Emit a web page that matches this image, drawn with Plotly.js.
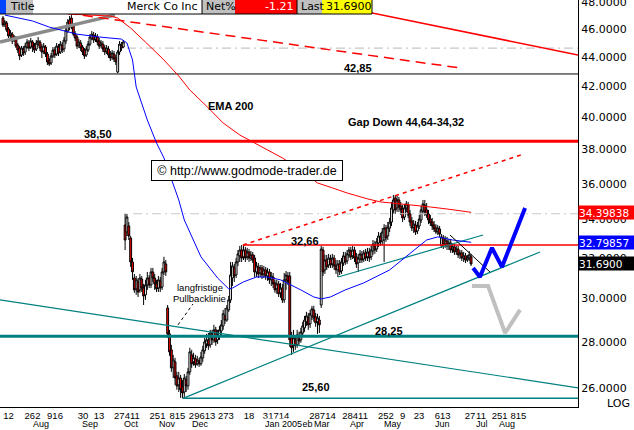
<!DOCTYPE html>
<html>
<head>
<meta charset="utf-8">
<script src="https://cdn.plot.ly/plotly-3.0.1.min.js"></script>
<style>html,body{margin:0;padding:0;background:#fff;}#chart{width:634px;height:430px;}</style>
</head>
<body>
<div id="chart"></div>
<script>
// ---- Daily OHLC (Merck Co Inc), one value per trading bar ----
const open = [
46.83,46.38,46.46,46.02,45.58,45.65,45.22,45.37,44.86,44.65,
44.16,44.58,44.37,44.72,45.01,44.72,45.08,44.79,44.58,44.93,
45.08,44.72,44.44,44.72,44.23,43.81,43.60,44.09,44.51,44.23,
44.72,44.37,44.86,44.58,45.15,45.87,46.68,46.83,46.24,45.65,
45.44,44.86,45.01,44.72,44.51,44.16,44.51,44.93,45.37,45.58,
45.29,45.44,45.15,44.86,44.93,44.65,44.44,44.58,44.23,44.02,
44.23,43.95,42.98,44.37,44.86,44.72,
33.71,33.34,33.66,33.02,31.79,30.99,30.46,30.80,30.41,30.94,
30.50,30.17,30.65,30.99,30.65,31.29,30.99,30.70,30.50,30.85,
30.55,31.29,31.69,29.55,28.36,27.65,26.87,27.13,26.53,26.15,
26.44,26.07,25.86,26.36,26.11,26.70,27.43,27.13,27.26,27.04,
27.17,27.04,27.30,27.61,27.91,28.09,27.87,28.36,28.09,28.54,
28.09,28.27,28.49,28.72,29.18,28.99,29.46,29.93,30.99,31.49,
31.14,31.79,32.10,32.40,32.05,32.40,32.05,32.30,31.99,32.15,
31.99,31.29,31.54,31.24,31.49,31.19,31.39,31.09,31.29,30.90,
31.04,30.75,30.46,30.70,30.27,30.50,29.93,30.90,31.09,31.09,
28.18,27.83,28.09,27.87,28.27,28.09,28.40,28.63,28.91,29.09,
28.81,29.18,29.46,29.14,28.91,28.99,29.69,32.40,31.39,31.89,
31.64,31.94,31.69,31.99,31.59,31.39,31.69,31.34,31.74,32.05,
31.84,32.15,32.35,32.10,32.40,32.05,31.74,31.94,32.15,31.94,
32.25,32.05,32.30,32.05,32.35,32.61,32.45,32.76,33.08,32.87,
32.92,33.55,33.13,33.55,33.87,34.53,35.19,34.64,35.08,34.75,
34.58,34.14,34.64,34.80,34.31,33.93,33.60,33.71,33.39,33.66,
33.98,34.47,34.80,34.53,34.31,34.03,33.87,33.71,33.55,33.39,
33.50,32.61,33.02,32.71,32.87,32.66,32.76,32.45,32.56,32.35,
32.45,32.15,32.25,31.99,32.10,31.89,31.99,32.05];
const high = [
46.98,46.68,46.61,46.16,45.94,45.80,45.58,45.51,45.01,44.79,
44.79,44.79,45.01,45.29,45.22,45.37,45.22,45.01,45.22,45.44,
45.22,44.93,45.01,44.86,44.37,43.95,44.30,44.72,44.72,45.01,
44.93,45.15,45.08,45.44,46.16,46.75,46.98,47.05,46.46,45.87,
45.58,45.29,45.22,44.86,44.65,44.79,45.15,45.65,45.87,45.80,
45.73,45.65,45.37,45.22,45.15,44.86,44.86,44.79,44.44,44.51,
44.44,44.16,44.51,45.15,45.08,45.22,
34.32,34.31,33.87,33.13,31.99,31.19,31.09,30.99,31.19,31.09,
30.70,30.90,31.29,31.14,31.49,31.49,31.19,30.90,31.09,31.04,
31.49,32.05,31.89,29.69,28.54,27.87,27.43,27.30,26.70,26.70,
26.57,26.36,26.61,26.53,26.87,27.74,27.65,27.52,27.43,27.39,
27.30,27.56,27.83,28.18,28.36,28.40,28.54,28.54,28.77,28.68,
28.54,28.72,28.99,29.46,29.55,29.69,30.12,31.79,31.79,31.69,
31.99,32.40,32.61,32.66,32.66,32.56,32.51,32.45,32.35,32.30,
32.15,31.79,31.74,31.64,31.64,31.59,31.54,31.49,31.44,31.29,
31.24,30.90,30.90,30.85,30.75,30.70,31.24,31.34,31.29,31.29,
28.45,28.54,28.31,28.54,28.45,28.63,28.91,29.18,29.37,29.32,
29.46,29.65,29.65,29.32,29.28,29.18,32.61,32.56,32.15,32.15,
32.20,32.15,32.20,32.15,31.89,31.89,31.89,31.99,32.30,32.30,
32.40,32.56,32.56,32.61,32.56,32.25,32.20,32.40,32.35,32.40,
32.45,32.51,32.51,32.61,32.92,32.87,33.02,33.34,33.29,33.55,
33.76,33.71,33.87,34.09,34.97,35.36,35.36,35.30,35.25,34.97,
34.80,34.86,35.02,34.97,34.53,34.14,33.98,33.93,33.87,34.25,
34.75,35.08,35.08,34.91,34.53,34.25,34.09,33.93,33.76,33.71,
33.66,33.23,33.18,33.13,33.08,32.97,32.97,32.71,32.71,32.61,
32.61,32.40,32.40,32.30,32.25,32.15,32.35,32.20];
const low = [
46.16,46.16,45.80,45.37,45.37,44.93,45.08,44.65,44.30,43.81,
44.02,44.09,44.16,44.58,44.44,44.58,44.37,44.30,44.44,44.79,
44.44,43.95,44.23,44.02,43.46,43.39,43.46,43.95,43.95,44.09,
44.09,44.23,44.30,44.37,44.93,45.73,45.94,46.02,45.51,45.15,
44.58,44.65,44.44,44.16,43.88,44.02,44.37,44.79,45.22,45.01,
45.08,44.86,44.58,44.65,44.37,44.16,44.23,43.95,43.74,43.81,
43.67,43.46,42.91,44.16,44.44,44.64,
32.40,33.13,32.92,31.54,30.90,30.27,30.17,30.07,30.27,30.31,
29.69,29.93,30.41,30.50,30.50,30.80,30.41,30.31,30.31,30.31,
30.41,31.14,31.09,28.18,27.39,26.70,26.44,26.15,25.95,25.86,
25.62,25.60,25.62,25.86,25.95,26.57,26.87,26.96,26.87,26.96,
26.91,26.96,27.13,27.48,27.74,27.65,27.74,27.87,27.96,27.83,
27.91,28.09,28.27,28.54,28.81,28.91,29.37,29.79,30.60,30.80,
30.99,31.59,31.79,31.79,31.89,31.79,31.89,31.79,31.84,31.74,
31.04,31.04,30.99,31.04,30.94,30.99,30.90,30.85,30.70,30.60,
30.50,30.27,30.22,30.07,30.03,29.79,29.79,30.41,30.65,27.78,
27.43,27.56,27.65,27.74,27.87,27.96,28.27,28.45,28.72,28.54,
28.63,28.99,28.91,28.68,28.36,28.40,29.55,31.09,31.19,31.39,
31.49,31.49,31.49,31.39,31.19,31.04,31.14,31.19,31.59,31.64,
31.69,31.99,31.89,31.94,31.79,31.49,31.29,31.74,31.74,31.79,
31.84,31.84,31.79,31.89,32.15,32.20,32.30,32.56,32.61,32.66,
31.79,32.82,32.92,33.34,33.66,34.31,34.31,34.42,34.42,34.25,
33.87,33.98,34.42,34.09,33.66,33.39,33.29,33.18,33.23,33.50,
33.82,34.31,34.20,34.09,33.76,33.66,33.45,33.34,33.23,33.18,
33.08,32.51,32.45,32.51,32.40,32.40,32.25,32.25,32.15,32.15,
31.99,31.94,31.84,31.79,31.74,31.79,31.84,31.59];
const close = [
46.31,46.53,45.94,45.51,45.73,45.15,45.44,44.79,44.51,44.09,
44.65,44.30,44.79,45.08,44.65,45.15,44.72,44.51,45.01,45.15,
44.65,44.37,44.79,44.23,43.67,43.53,44.09,44.51,44.16,44.79,
44.30,44.93,44.51,45.22,45.94,46.53,46.16,46.24,45.65,45.37,
44.79,45.08,44.65,44.37,44.09,44.58,44.93,45.44,45.65,45.22,
45.51,45.08,44.79,45.01,44.58,44.37,44.65,44.16,43.95,44.30,
43.88,43.67,44.37,44.93,44.65,45.08,
32.92,34.14,33.13,31.79,31.29,30.41,30.90,30.31,30.99,30.50,
30.12,30.65,30.99,30.65,31.29,30.99,30.70,30.46,30.90,30.50,
31.29,31.79,31.29,28.36,27.56,26.87,27.21,26.44,26.11,26.44,
25.95,25.82,26.44,26.11,26.70,27.56,27.04,27.30,27.00,27.21,
27.04,27.34,27.65,28.00,28.09,27.83,28.40,28.09,28.54,28.00,
28.31,28.54,28.77,29.28,28.99,29.55,29.93,31.14,31.59,31.09,
31.79,32.20,32.40,31.99,32.40,31.99,32.30,31.99,32.15,31.89,
31.29,31.59,31.19,31.49,31.14,31.39,31.09,31.29,30.90,31.09,
30.70,30.41,30.70,30.22,30.50,29.93,30.90,31.14,30.80,28.09,
27.74,28.18,27.83,28.31,28.04,28.45,28.72,28.99,29.18,28.77,
29.28,29.51,29.09,28.86,29.09,28.77,32.45,31.29,31.89,31.54,
31.99,31.64,31.99,31.59,31.39,31.69,31.29,31.79,32.10,31.79,
32.20,32.40,32.05,32.40,31.99,31.69,31.99,32.20,31.89,32.25,
31.99,32.30,31.99,32.40,32.71,32.40,32.82,33.13,32.82,33.34,
33.55,33.02,33.60,33.87,34.64,35.08,34.53,35.08,34.69,34.53,
34.09,34.64,34.86,34.25,33.87,33.55,33.76,33.34,33.66,34.03,
34.53,34.86,34.42,34.25,33.98,33.82,33.66,33.50,33.34,33.55,
33.23,33.08,32.66,32.92,32.61,32.76,32.40,32.56,32.30,32.45,
32.15,32.25,31.99,32.10,31.89,31.99,32.15,31.69];

// moving averages (bar index, value)
const emaFastBar = [1,16,25,35,40,52,60,64,67,70,72,78,83,87,95,98,107,116,122,124,130,137,143,150,161,168,172,177,185,195,209,222,229,235,243,253];
const emaFastVal = [47.05,46.61,46.16,45.80,45.65,45.44,45.37,45.29,45.01,43.81,41.97,39.83,38.40,37.50,35.08,33.98,32.05,30.99,30.46,30.50,30.80,31.04,31.04,30.90,30.41,30.07,29.98,30.07,30.41,30.75,31.39,32.40,32.92,33.08,32.92,32.79857];
const ema200Bar = [35,47,58,62,69,77,87,95,101,111,119,128,135,143,151,161,170,178,186,197,204,213,222,231,240,247,253];
const ema200Val = [47.13,47.05,46.98,46.83,46.09,45.08,43.81,42.71,41.77,40.60,39.64,38.89,38.46,37.98,37.50,36.79,36.04,35.76,35.47,35.14,34.97,34.88,34.80,34.69,34.58,34.47,34.39838];

// horizontal levels
const level4285 = 42.85, level3850 = 38.50, level3266 = 32.66, level2825 = 28.25, level2560 = 25.60;
const gapTop = 44.64, gapBottom = 34.32;
const lastPrice = 31.69, netPct = -1.21;

// trend lines (bar index, price)
const grayTrendX = [-1.62, 60.5], grayTrendY = [45.08, 47.05];
const downDashX = [34.6, 247], downDashY = [47.20, 43.26];
const downSolidX = [166, 310.8], downSolidY = [48.16, 44.16];
const upDashX = [129.7, 280], upDashY = [32.66, 37.68];
const tealAX = [-1.62, 310.8], tealAY = [29.93, 26.03];
const tealBX = [97.3, 290.3], tealBY = [25.60, 32.30];
const tealCX = [181.1, 259.5], tealCY = [31.04, 33.18];
const pullbackX = [94.6, 102.7], pullbackY = [28.77, 29.74];
const thinDownX = [241.6, 263.2], thinDownY = [33.18, 31.29];
const bullPathX = [254.1, 257.8, 264.3, 269.7, 282.2], bullPathY = [31.49, 31.04, 32.51, 31.54, 34.64];
const bearPathX = [253.5, 262.2, 271.4, 279.5], bearPathY = [30.60, 30.60, 28.40, 29.46];

// axis labels
const dayTickBar = [2.97,15.95,28.1,43.2,51.9,67.0,83.5,94.3,107.6,120.5,133.0,147.6,172.7,190.3,207.0,216.0,224.9,237.6,252.4,258.4,268.4,278.6];
const dayTickText = ["12","262","916","30","13","27411","251","815","29613","273","18","31714","28714","28411","252","9","23","613","27","11","251","815"];
const monthBar = [20.8,47.0,69.7,88.9,107.0,163.3,151.6,172.2,191.4,210.8,237.3,258.9,272.4];
const monthText = ["Aug","Sep","Oct","Nov","Dec","Feb","Jan 2005","Mar","Apr","May","Jun","Jul","Aug"];
const priceTicks = [26,28,30,32,34,36,38,40,42,44,46,48];

const bars = close.map((_, i) => i);
const xMin = -1.62, xMax = 310.8;

function ln(x, y, color, width, dash) {
  return {type:'scatter', mode:'lines', x:x, y:y, hoverinfo:'skip', showlegend:false,
          line:{color:color, width:width, dash:dash||'solid'}};
}

const traces = [
  ln(grayTrendX, grayTrendY, '#8a8a8a', 3.5),
  ln([xMin, xMax], [level4285, level4285], '#000000', 1),
  ln([xMin, xMax], [level3850, level3850], '#ff0000', 3),
  ln([upDashX[0], xMax], [level3266, level3266], '#ff0000', 1.5),
  ln([67, xMax], [gapTop, gapTop], '#c8c8c8', 1.2, '9px,4px,2px,4px'),
  ln([70.3, xMax], [gapBottom, gapBottom], '#c8c8c8', 1.2, '9px,4px,2px,4px'),
  ln(tealAX, tealAY, '#008080', 1.2),
  ln(tealBX, tealBY, '#008080', 1.2),
  ln(tealCX, tealCY, '#008080', 1.2),
  ln([tealBX[0], xMax], [level2560, level2560], '#008080', 1.5),
  {type:'candlestick', x:bars, open:open, high:high, low:low, close:close,
   whiskerwidth:0, hoverinfo:'skip', showlegend:false,
   increasing:{line:{color:'#000000', width:1}, fillcolor:'#ffffff'},
   decreasing:{line:{color:'#000000', width:1}, fillcolor:'#ff0000'}},
  ln([xMin, xMax], [level2825, level2825], '#008080', 3),
  ln(emaFastBar, emaFastVal, '#0000ff', 1),
  ln(ema200Bar, ema200Val, '#ff0000', 1),
  ln(downDashX, downDashY, '#ff0000', 1.5, '10px,6px'),
  ln(downSolidX, downSolidY, '#ff0000', 1.5),
  ln(upDashX, upDashY, '#ff0000', 1.5, '4px,4px'),
  ln(pullbackX, pullbackY, '#000000', 1, '3px,3px'),
  ln(thinDownX, thinDownY, '#000000', 1),
  ln(bearPathX, bearPathY, '#c0c0c0', 4),
  ln(bullPathX, bullPathY, '#0000ff', 4)
];

const W = 578, H = 407;
const px = v => v / W, py = v => 1 - v / H;
const hy0 = py(14), hy1 = 1;
function rect(x0, x1, color) {
  return {type:'rect', xref:'paper', yref:'paper', x0:px(x0), x1:px(x1), y0:hy0, y1:hy1,
          fillcolor:color, line:{width:0}, layer:'above'};
}
function seg(x0, y0, x1, y1) {
  return {type:'line', xref:'paper', yref:'paper', x0:px(x0), x1:px(x1), y0:py(y0), y1:py(y1),
          line:{color:'#000', width:1}, layer:'above'};
}
const shapes = [
  rect(0, 6, '#0044ff'), rect(6, 33, '#c0c0c0'), rect(33, 202, '#ffffff'),
  rect(202, 235, '#c0c0c0'), rect(235, 297, '#ff0000'), rect(297, 322, '#c0c0c0'),
  rect(322, 372, '#ffff00'),
  seg(0, 14, 372, 14), seg(202, 0, 202, 14), seg(297, 0, 297, 14), seg(372, 0, 372, 14)
];

const hdrFont = {family:'DejaVu Sans, Arial', size:11, color:'#000'};
const boldFont = {family:'Liberation Sans, Arial', size:11, color:'#000'};
function txt(t, x, y, font, anchor) {
  return {text:t, xref:'paper', yref:'paper', x:px(x), y:py(y), showarrow:false,
          xanchor:anchor||'center', yanchor:'middle', font:font};
}
const annotations = [
  txt('Title', 8, 7, hdrFont, 'left'),
  txt('Merck Co Inc', 200, 7, hdrFont, 'right'),
  txt('Net%', 204, 7, hdrFont, 'left'),
  txt(netPct.toFixed(2), 295, 7, {family:'DejaVu Sans, Arial', size:11, color:'#ffffff'}, 'right'),
  txt('Last', 299, 7, hdrFont, 'left'),
  txt(lastPrice.toFixed(4), 324, 7, hdrFont, 'left'),
  txt('<b>38,50</b>', 98, 134, boldFont),
  txt('<b>EMA 200</b>', 230.5, 106, boldFont),
  txt('<b>Gap Down 44,64-34,32</b>', 406, 122, boldFont),
  txt('<b>42,85</b>', 358, 68, boldFont),
  txt('<b>32,66</b>', 304.5, 241, boldFont),
  txt('<b>28,25</b>', 388.5, 331, boldFont),
  txt('<b>25,60</b>', 315.5, 387, boldFont),
  txt('langfristige', 199.5, 287, {family:'Liberation Sans, Arial', size:9.5, color:'#000'}),
  txt('Pullbacklinie', 199.5, 298, {family:'Liberation Sans, Arial', size:9.5, color:'#000'}),
  Object.assign(txt('\u00a9 http://www.godmode-trader.de', 247, 170.5,
    {family:'Liberation Sans, Arial', size:12.5, color:'#000'}),
    {bgcolor:'#ffffff', bordercolor:'#000000', borderwidth:1, borderpad:2, width:186, height:15}),
  {text:'LOG', xref:'paper', yref:'paper', x:632/W, y:py(403), xanchor:'right', yanchor:'middle',
   showarrow:false, font:hdrFont}
];
// month labels
monthBar.forEach((b, k) => {
  annotations.push({text:monthText[k], xref:'x', yref:'paper', x:b, y:py(424), showarrow:false,
    xanchor:'center', yanchor:'middle', font:{family:'Liberation Sans, Arial', size:9, color:'#000'},
    bgcolor: monthText[k] === 'Jan 2005' ? '#ffffff' : 'rgba(0,0,0,0)', borderpad:0});
});
// last-value boxes on the price axis
[[ema200Val[ema200Val.length-1], '#ff0000', 5], [emaFastVal[emaFastVal.length-1], '#0000ff', 5],
 [close[close.length-1], '#000000', 4]].forEach(([v, c, d]) => {
  annotations.push({text:v.toFixed(d), xref:'paper', yref:'y', x:1, y:Math.log10(v),
    xanchor:'left', yanchor:'middle', showarrow:false, align:'left', bgcolor:c,
    borderpad:0, width:56, height:13, font:{family:'DejaVu Sans, Arial', size:10.5, color:'#ffffff'}});
});

const layout = {
  width:634, height:430, margin:{l:0, r:56, t:0, b:23, pad:0},
  paper_bgcolor:'#ffffff', plot_bgcolor:'#ffffff', showlegend:false,
  boxgap:0, boxgroupgap:0,
  xaxis:{range:[xMin, xMax], showgrid:false, zeroline:false, showline:true, linecolor:'#000', linewidth:1,
    ticks:'', tickvals:dayTickBar, ticktext:dayTickText, tickangle:0,
    tickfont:{family:'Liberation Sans, Arial', size:9.5, color:'#000'},
    rangeslider:{visible:false}, fixedrange:true},
  yaxis:{type:'log', side:'right', range:[Math.log10(25.25), Math.log10(48.19)],
    showgrid:false, zeroline:false, showline:true, linecolor:'#000', linewidth:1, ticks:'',
    ticklabeloverflow:'allow',
    tickvals:priceTicks, ticktext:priceTicks.map(v => v.toFixed(4)),
    tickfont:{family:'DejaVu Sans, Arial', size:11, color:'#000'}, fixedrange:true},
  shapes:shapes, annotations:annotations
};

Plotly.newPlot('chart', traces, layout, {staticPlot:true, displayModeBar:false});
</script>
</body>
</html>
